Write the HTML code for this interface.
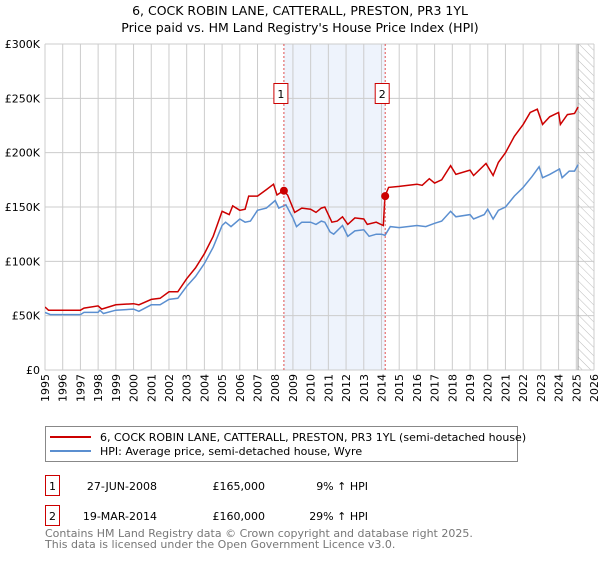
<!DOCTYPE html>
<html><head><meta charset="utf-8"><style>
body{margin:0;background:#fff;font-family:"Liberation Sans","DejaVu Sans",sans-serif;}
svg text{font-family:"DejaVu Sans","Liberation Sans",sans-serif;}
</style></head><body>
<svg id="chart" width="600" height="560" viewBox="0 0 600 560" xmlns="http://www.w3.org/2000/svg">
<defs>
<pattern id="hatch" width="6" height="6" patternUnits="userSpaceOnUse" patternTransform="rotate(-45)">
<line x1="0" y1="0" x2="0" y2="6" stroke="#bbb" stroke-width="1"/></pattern>
<clipPath id="plotclip"><rect x="45" y="44" width="549" height="326"/></clipPath>
</defs>
<text x="300" y="15" text-anchor="middle" font-size="12.5" fill="#000">6, COCK ROBIN LANE, CATTERALL, PRESTON, PR3 1YL</text>
<text x="300" y="32" text-anchor="middle" font-size="12.5" fill="#000">Price paid vs. HM Land Registry's House Price Index (HPI)</text>
<g id="bg"></g>
<g id="grid"></g>
<g id="series" clip-path="url(#plotclip)"></g>
<g id="marks"></g>
<g id="axes"></g>
<rect x="45.5" y="426.5" width="472" height="35" fill="#fff" stroke="#888"/>
<line x1="50" y1="437" x2="91" y2="437" stroke="#cc0000" stroke-width="2"/>
<text x="100" y="441" font-size="11">6, COCK ROBIN LANE, CATTERALL, PRESTON, PR3 1YL (semi-detached house)</text>
<line x1="50" y1="451" x2="91" y2="451" stroke="#5b8fd0" stroke-width="2"/>
<text x="100" y="455" font-size="11">HPI: Average price, semi-detached house, Wyre</text>
<rect x="45.5" y="475.5" width="14" height="20" fill="#fff" stroke="#cc0000"/>
<text x="52.5" y="490" font-size="11" text-anchor="middle">1</text>
<text x="157" y="490" font-size="11" text-anchor="end">27-JUN-2008</text>
<text x="265" y="490" font-size="11" text-anchor="end">£165,000</text>
<text x="368" y="490" font-size="11" text-anchor="end">9% ↑ HPI</text>
<rect x="45.5" y="505.5" width="14" height="20" fill="#fff" stroke="#cc0000"/>
<text x="52.5" y="520" font-size="11" text-anchor="middle">2</text>
<text x="157" y="520" font-size="11" text-anchor="end">19-MAR-2014</text>
<text x="265" y="520" font-size="11" text-anchor="end">£160,000</text>
<text x="368" y="520" font-size="11" text-anchor="end">29% ↑ HPI</text>
<text x="45" y="537" font-size="11" fill="#777">Contains HM Land Registry data © Crown copyright and database right 2025.</text>
<text x="45" y="548" font-size="11" fill="#777">This data is licensed under the Open Government Licence v3.0.</text>
</svg>
<script>
const years=[1995,1996,1997,1998,1999,2000,2001,2002,2003,2004,2005,2006,2007,2008,2009,2010,2011,2012,2013,2014,2015,2016,2017,2018,2019,2020,2021,2022,2023,2024,2025,2026];
const yTicks=[0,50000,100000,150000,200000,250000,300000];
const yTickLabels=["£0","£50K","£100K","£150K","£200K","£250K","£300K"];
const hpiT=[1995,1995.3,1996,1997,1997.2,1998,1998.1,1998.3,1999,2000,2000.3,2001,2001.5,2002,2002.5,2003,2003.5,2004,2004.5,2005,2005.2,2005.5,2006,2006.3,2006.6,2007,2007.5,2008,2008.2,2008.6,2009,2009.2,2009.5,2010,2010.3,2010.6,2010.8,2011.1,2011.3,2011.8,2012.1,2012.5,2013,2013.3,2013.7,2014,2014.2,2014.5,2015,2016,2016.5,2017,2017.4,2017.9,2018.2,2019,2019.2,2019.8,2020,2020.3,2020.6,2021,2021.5,2022,2022.5,2022.9,2023.1,2023.5,2024.05,2024.2,2024.6,2024.9,2025.1];
const hpiV=[53,51,51,51,53,53,55,52,55,56,54,60,60,65,66,77,86,98,113,133,136,132,139,136,137,147,149,156,149,152,140,132,136,136,134,137,136,127,125,133,123,128,129,123,125,125,124,132,131,133,132,135,137,146,141,143,139,143,148,139,147,150,160,168,178,187,177,180,185,177,183,183,189];
const priceT=[1995,1995.2,1996,1997,1997.2,1998,1998.2,1999,2000,2000.3,2001,2001.5,2002,2002.5,2003,2003.5,2004,2004.5,2005,2005.4,2005.6,2006,2006.3,2006.5,2007,2007.5,2007.9,2008.1,2008.46,2008.7,2009.1,2009.5,2010,2010.3,2010.6,2010.8,2011.2,2011.5,2011.8,2012.1,2012.5,2013,2013.2,2013.7,2014.1,2014.2,2014.4,2015,2016,2016.3,2016.7,2017,2017.4,2017.9,2018.2,2019,2019.2,2019.9,2020.3,2020.6,2021,2021.5,2022,2022.4,2022.8,2023.1,2023.5,2024,2024.1,2024.5,2024.9,2025.1];
const priceV=[58,55,55,55,57,59,56,60,61,60,65,66,72,72,84,94,107,123,146,143,151,147,148,160,160,166,171,161,165,161,145,149,148,145,149,150,136,137,141,134,140,139,134,136,133,160,168,169,171,170,176,172,175,188,180,184,179,190,179,191,200,215,226,237,240,226,233,237,226,235,236,242];
const saleT=[2008.49,2014.21];
const saleV=[165000,160000];
const saleLabels=["1","2"];
const X0=45,X1=594,Y0=370,Y1=44;
const xs=t=>X0+(t-1995)/31*(X1-X0);
const ys=v=>Y0-v/300000*(Y0-Y1);
const NS="http://www.w3.org/2000/svg";
function mk(tag,attrs,parent){const e=document.createElementNS(NS,tag);for(const k in attrs)e.setAttribute(k,attrs[k]);document.getElementById(parent).appendChild(e);return e;}
let r=mk('rect',{x:xs(saleT[0]),y:Y1,width:xs(saleT[1])-xs(saleT[0]),height:Y0-Y1,fill:'#eef3fc'},'bg');


r=mk('rect',{x:xs(2025.1),y:Y1,width:X1-xs(2025.1),height:Y0-Y1,fill:'url(#hatch)'},'bg');


years.forEach(y=>{const l=mk('line',{x1:xs(y),x2:xs(y),y1:Y1,y2:Y0,stroke:'#ccc','stroke-width':1},'grid');


const t=mk('text',{x:0,y:0,'font-size':11,'text-anchor':'end',transform:`translate(${xs(y)+4},${Y0+4}) rotate(-90)`},'axes');t.textContent=y;

});
yTicks.forEach((v,i)=>{const l=mk('line',{x1:X0,x2:X1,y1:ys(v),y2:ys(v),stroke:'#ccc','stroke-width':1},'grid');


const t=mk('text',{x:X0-5,y:ys(v)+4,'font-size':11,'text-anchor':'end'},'axes');t.textContent=yTickLabels[i];

});
let l=mk('line',{x1:xs(2025.1),x2:xs(2025.1),y1:Y1,y2:Y0,stroke:'#999','stroke-width':1},'grid');


function path(T,V){return T.map((t,i)=>(i?'L':'M')+xs(t).toFixed(1)+','+ys(V[i]*1000).toFixed(1)).join('');}
let p=mk('path',{d:path(hpiT,hpiV),fill:'none',stroke:'#5b8fd0','stroke-width':1.5},'series');


p=mk('path',{d:path(priceT,priceV),fill:'none',stroke:'#cc0000','stroke-width':1.5},'series');


saleT.forEach((t,i)=>{const d=mk('line',{x1:xs(t),x2:xs(t),y1:Y1,y2:Y0,stroke:'#e05050','stroke-width':1,'stroke-dasharray':'2,2'},'marks');


const c=mk('circle',{cx:xs(t),cy:ys(saleV[i]),r:4,fill:'#cc0000'},'marks');


const b=mk('rect',{x:xs(t)-10,y:83.5,width:14,height:20,fill:'#fff',stroke:'#cc0000'},'marks');


const tx=mk('text',{x:xs(t)-3,y:98,'font-size':11,'text-anchor':'middle'},'marks');tx.textContent=saleLabels[i];

});
</script>
</body></html>
